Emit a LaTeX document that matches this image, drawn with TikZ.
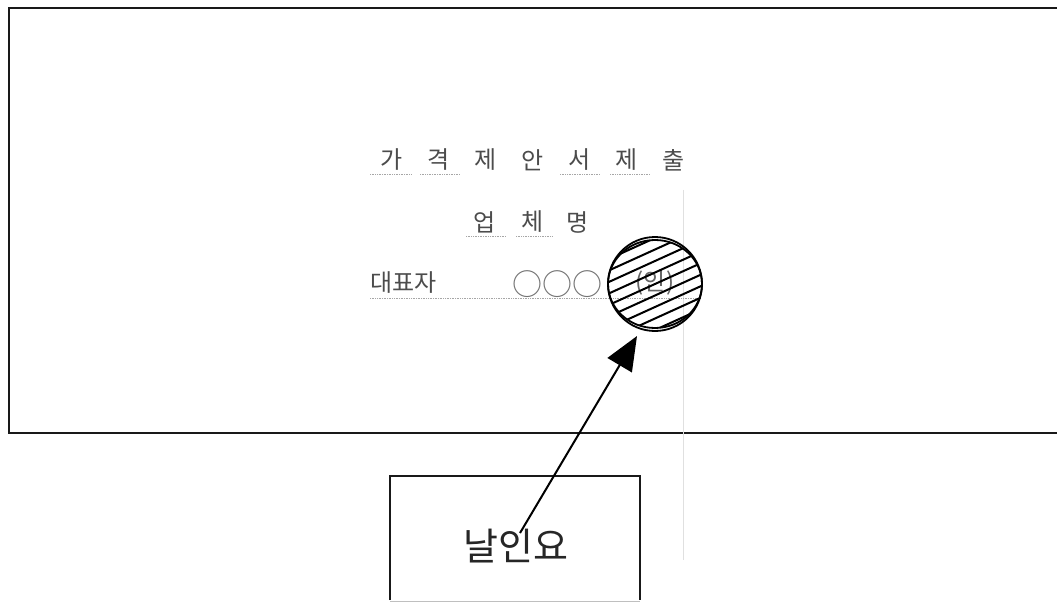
\documentclass[tikz,border=0pt]{standalone}
\usepackage{fontspec}
\newfontfamily\kr{Noto Sans CJK KR}
\usetikzlibrary{arrows.meta}
\begin{document}
\begin{tikzpicture}[x=1pt,y=-1pt,
  txt/.style={font=\kr\fontsize{24}{26}\selectfont, text=black!70, inner sep=0pt, anchor=center},
  uline/.style={black!35, densely dotted, line width=0.7pt},
  frame/.style={draw=black!90, line width=2.2pt},
  box/.style={draw=black!90, line width=1.6pt}]
\useasboundingbox (0,0) rectangle (1057,604);
\fill[white] (0,0) rectangle (1057,604);
% main frame
\draw[frame] (1062,8) -- (9,8) -- (9,433) -- (1062,433);
% faint scan line
\draw[black!12, line width=0.6pt] (683,190) -- (683,560);
% title line
\foreach \c [count=\i] in {가,격,제,안,서,제,출}{
  \node[txt] (t\i) at ({345+47*\i},160) {\c};
}
\draw[uline] (370,174) -- (412,174) (420,174) -- (460,174) (560,174) -- (600,174) (610,174) -- (650,174);
\node[txt] (u1) at (485,222) {업};
\node[txt] (u2) at (533,222) {체};
\node[txt] (u3) at (578,222) {명};
\draw[uline] (466,236) -- (506,236) (516,236) -- (552,236);
\node[txt, anchor=west] (rep) at (370,283) {대표자};
\node[txt, font=\kr\fontsize{30}{32}\selectfont, text=black!55] (o) at (557,284) {○○○};
\node[txt, text=black!60] (in) at (655,283) {(인)};
\draw[uline] (370,298) -- (700,298);
% hatched seal
\node[circle, draw=black, line width=1.8pt, minimum width=94pt, inner sep=0pt] (seal) at (655,284) {};
\begin{scope}
  \clip (655,284) ellipse (47 and 44);
  \foreach \k in {-6,...,6}{
    \draw[line width=2pt] (600,{284+11.5*\k+25}) -- (710,{284+11.5*\k-25});
  }
\end{scope}
\draw[line width=1.8pt] (655,284) ellipse (47 and 44);
% stamp box
\draw[box] (390,600) -- (390,476) -- (640,476) -- (640,600);
\draw[black!25, line width=1pt] (390,601) -- (640,601);
\node[font=\kr\fontsize{38}{40}\selectfont, text=black!85] (stamp) at (516,546) {날인요};
\coordinate (from) at (520,533);
\coordinate (tip) at (637,336);
\draw[line width=2pt, -{Triangle[length=34pt,width=28pt]}] (from) -- (tip);
\end{tikzpicture}
\end{document}
